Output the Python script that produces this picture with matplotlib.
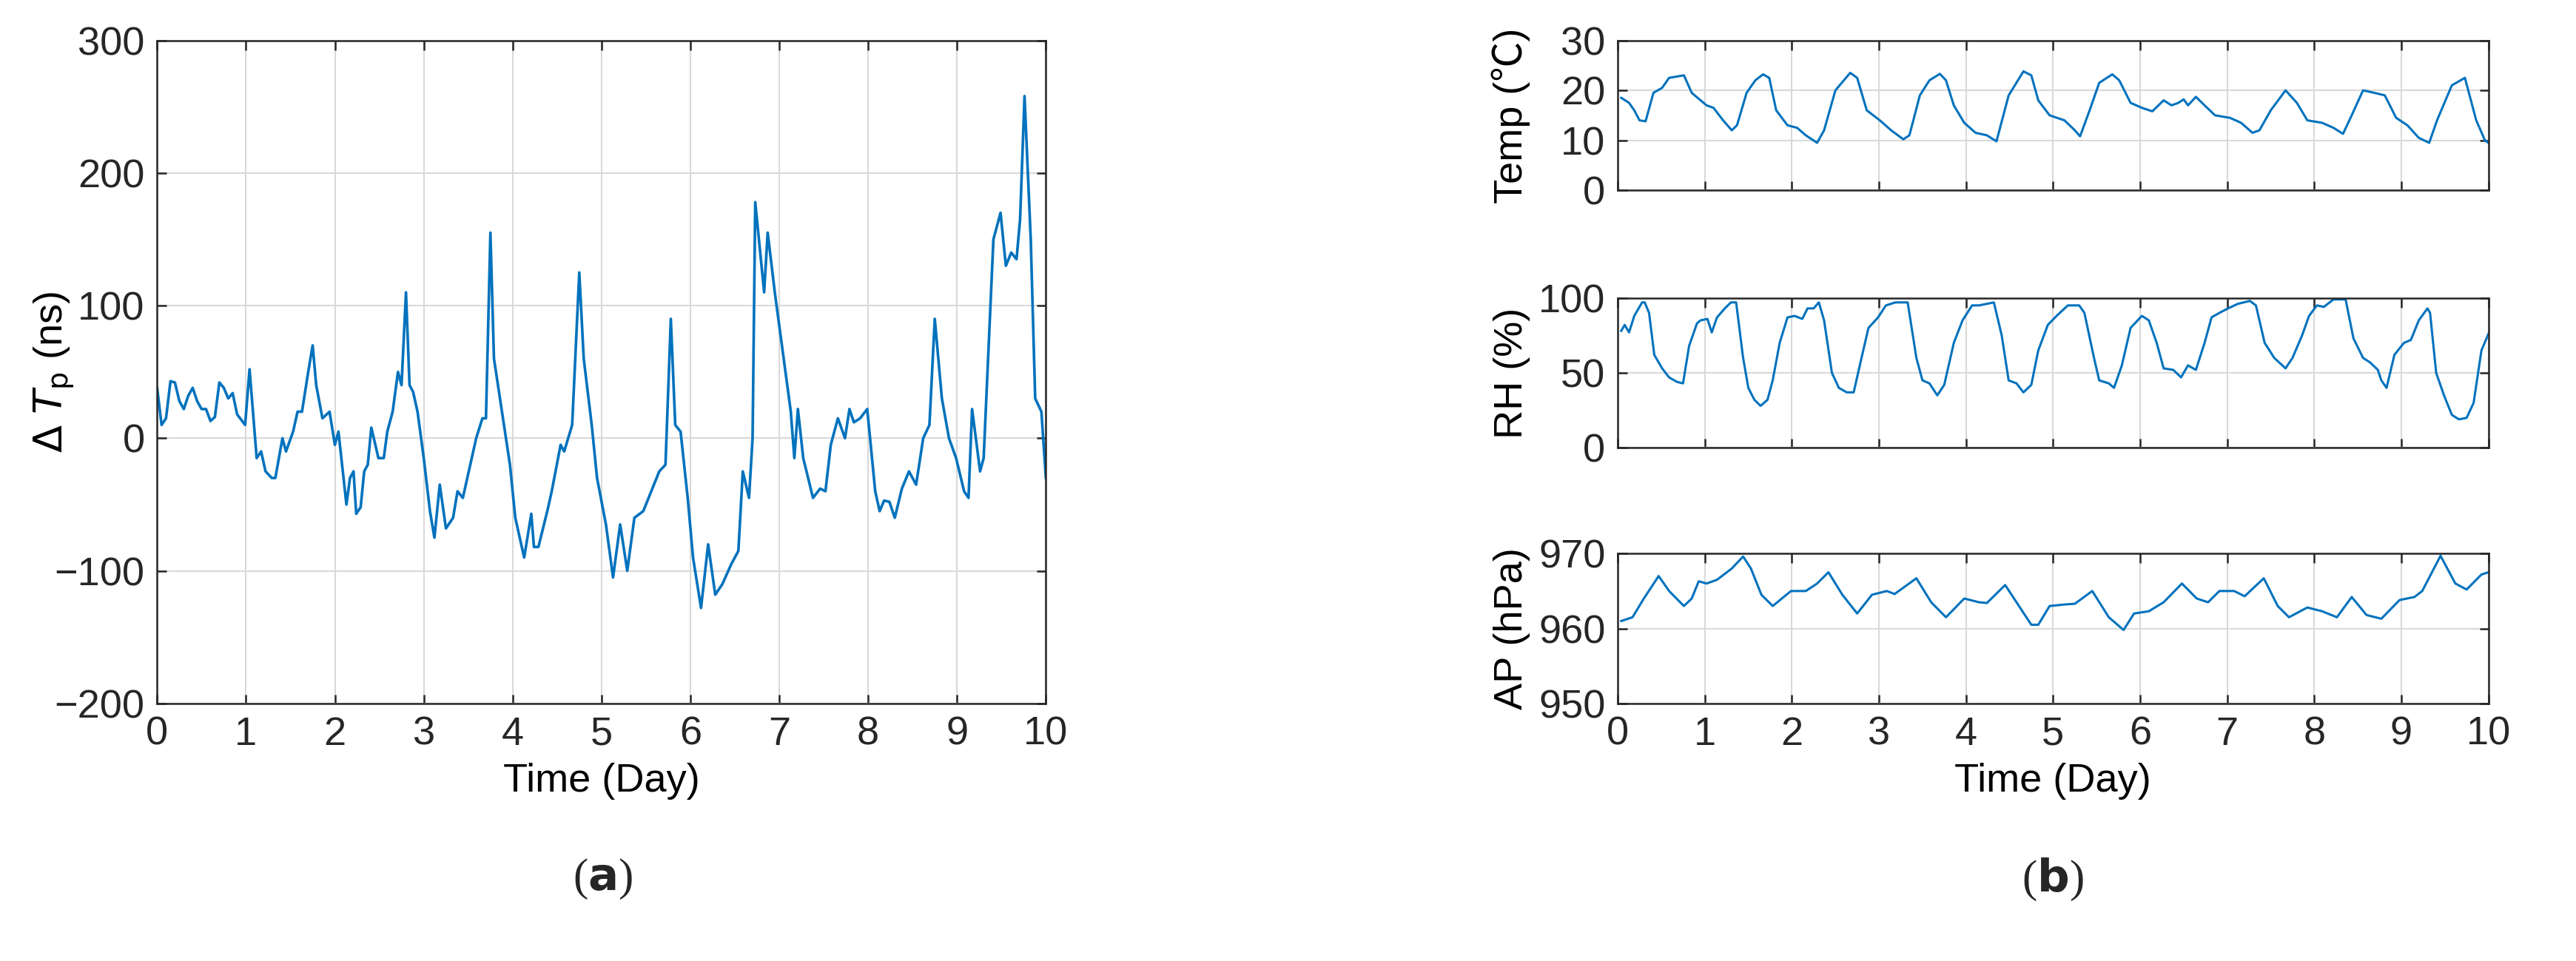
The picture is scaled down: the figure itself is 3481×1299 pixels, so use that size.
import numpy as np
import matplotlib
matplotlib.use("Agg")
import matplotlib.pyplot as plt

BLUE, AXC, GRID = "#0072BD", "#262626", "#d9d9d9"
plt.rcParams.update({"font.family": ["Liberation Sans", "DejaVu Sans"], "font.size": 39,
                     "axes.linewidth": 1.8, "axes.edgecolor": AXC,
                     "xtick.color": AXC, "ytick.color": AXC, "text.color": AXC})

# ---- (a) delta Tp ----
t_dtp = [0, .05, .1, .15, .2, .25, .3, .35, .4, .45, .5, .55, .6, .65, .7, .75, .8, .85, .9, .99,
         1.04, 1.12, 1.17, 1.22, 1.29, 1.33, 1.41, 1.45, 1.53, 1.58, 1.63, 1.70, 1.75, 1.79, 1.86, 1.94,
         2.0, 2.04, 2.13, 2.17, 2.21, 2.24, 2.29, 2.33, 2.37, 2.41, 2.49, 2.55, 2.59, 2.65, 2.71, 2.75,
         2.80, 2.84, 2.88, 2.93, 3.0, 3.07, 3.12, 3.18, 3.25, 3.33, 3.38, 3.44, 3.49, 3.59, 3.66, 3.70,
         3.75, 3.79, 3.88, 3.97, 4.03, 4.13, 4.21, 4.24, 4.29, 4.39, 4.44, 4.54, 4.58, 4.67, 4.75, 4.80,
         4.89, 4.95, 5.05, 5.13, 5.21, 5.29, 5.37, 5.47, 5.56, 5.65, 5.72, 5.78, 5.83, 5.89, 5.97, 6.03,
         6.12, 6.20, 6.28, 6.36, 6.46, 6.54, 6.59, 6.66, 6.70, 6.73, 6.83, 6.87, 6.95, 7.03, 7.13, 7.17,
         7.21, 7.27, 7.38, 7.46, 7.52, 7.58, 7.66, 7.74, 7.79, 7.84, 7.91, 7.99, 8.08, 8.13, 8.18, 8.24,
         8.30, 8.38, 8.46, 8.54, 8.62, 8.69, 8.75, 8.83, 8.91, 8.99, 9.08, 9.13, 9.17, 9.26, 9.30, 9.41,
         9.49, 9.55, 9.61, 9.67, 9.71, 9.76, 9.83, 9.88, 9.95, 10.0]
dtp = [38, 10, 15, 43, 42, 28, 22, 32, 38, 28, 22, 22, 13, 16, 42, 38, 30, 34, 18, 10,
       52, -15, -10, -25, -30, -30, 0, -10, 5, 20, 20, 50, 70, 40, 15, 20,
       -5, 5, -50, -30, -25, -57, -52, -25, -20, 8, -15, -15, 5, 20, 50, 40,
       110, 40, 35, 20, -15, -55, -75, -35, -68, -60, -40, -45, -30, 0, 15, 15,
       155, 60, 20, -20, -60, -90, -57, -82, -82, -55, -40, -5, -10, 10, 125, 60,
       10, -30, -65, -105, -65, -100, -60, -55, -40, -25, -20, 90, 10, 5, -45, -90,
       -128, -80, -118, -110, -95, -85, -25, -45, 0, 178, 110, 155, 110, 70, 20, -15,
       22, -15, -45, -38, -40, -5, 15, 0, 22, 12, 15, 22, -40, -55, -47, -48,
       -60, -38, -25, -35, 0, 10, 90, 30, 0, -15, -40, -45, 22, -25, -15, 150,
       170, 130, 140, 135, 165, 258, 150, 30, 20, -30]

# ---- (b) environment ----
t_temp = [.04, .13, .19, .25, .32, .41, .51, .59, .76, .85, 1.02, 1.10, 1.21, 1.31, 1.37, 1.48, 1.58,
          1.67, 1.74, 1.82, 1.95, 2.06, 2.16, 2.29, 2.37, 2.50, 2.67, 2.75, 2.86, 3.01, 3.14, 3.28, 3.35,
          3.47, 3.58, 3.70, 3.77, 3.86, 3.98, 4.11, 4.24, 4.35, 4.49, 4.66, 4.75, 4.83, 4.96, 5.13, 5.25,
          5.31, 5.42, 5.53, 5.68, 5.76, 5.89, 6.02, 6.14, 6.27, 6.36, 6.44, 6.50, 6.55, 6.64, 6.74, 6.86,
          7.03, 7.16, 7.29, 7.37, 7.50, 7.67, 7.80, 7.92, 8.09, 8.22, 8.33, 8.43, 8.56, 8.69, 8.81, 8.94,
          9.07, 9.20, 9.32, 9.41, 9.58, 9.73, 9.86, 9.96, 10.0]
temp = [18.5, 17.5, 16, 14, 13.8, 19.5, 20.5, 22.5, 23, 19.5, 17, 16.5, 14, 12, 13, 19.5, 22,
        23.2, 22.5, 16, 13, 12.5, 11, 9.5, 12, 20, 23.5, 22.5, 16, 14, 12, 10.2, 11,
        19, 22, 23.3, 22, 17, 13.5, 11.5, 11, 9.8, 19, 23.8, 23, 18, 15, 14, 12,
        10.8, 16, 21.5, 23.2, 22, 17.5, 16.5, 15.8, 18, 17, 17.5, 18.2, 17, 18.7, 17, 15,
        14.5, 13.5, 11.5, 12, 16, 20, 17.5, 14, 13.5, 12.5, 11.3, 15, 20, 19.5, 19, 14.5,
        13, 10.5, 9.5, 14, 21, 22.5, 14, 10, 9.5]

t_rh = [.04, .08, .13, .19, .28, .31, .36, .42, .51, .59, .68, .75, .82, .91, .95, 1.03, 1.08, 1.14,
        1.23, 1.30, 1.36, 1.44, 1.5, 1.57, 1.64, 1.72, 1.78, 1.86, 1.95, 2.03, 2.12, 2.18, 2.25, 2.31,
        2.37, 2.46, 2.54, 2.63, 2.71, 2.80, 2.88, 2.99, 3.08, 3.19, 3.33, 3.43, 3.50, 3.58, 3.67, 3.75,
        3.86, 3.96, 4.07, 4.15, 4.32, 4.41, 4.49, 4.58, 4.66, 4.75, 4.83, 4.94, 5.04, 5.17, 5.30, 5.36,
        5.47, 5.53, 5.64, 5.70, 5.79, 5.89, 6.02, 6.10, 6.19, 6.27, 6.38, 6.47, 6.55, 6.64, 6.74, 6.82,
        6.91, 7.01, 7.12, 7.26, 7.33, 7.43, 7.54, 7.67, 7.75, 7.86, 7.94, 8.03, 8.11, 8.22, 8.36, 8.45,
        8.56, 8.64, 8.73, 8.77, 8.83, 8.92, 9.03, 9.11, 9.20, 9.30, 9.33, 9.40, 9.49, 9.58, 9.66, 9.75,
        9.83, 9.92, 10.0]
rh = [78, 82, 77, 88, 97, 97, 90, 62, 53, 47, 44, 43, 68, 83, 85, 86, 77, 87,
      93, 97, 97, 60, 40, 32, 28, 32, 45, 70, 87, 88, 86, 93, 93, 97,
      85, 50, 40, 37, 37, 60, 80, 87, 95, 97, 97, 60, 45, 43, 35, 42,
      70, 85, 95, 95, 97, 75, 45, 43, 37, 42, 65, 82, 88, 95, 95, 90,
      60, 45, 43, 40, 55, 80, 88, 85, 70, 53, 52, 47, 55, 52, 70, 87,
      90, 93, 96, 98, 95, 70, 60, 53, 60, 75, 88, 95, 94, 99, 99, 73,
      60, 57, 52, 45, 40, 62, 70, 72, 85, 93, 90, 50, 35, 22, 19, 20,
      30, 65, 76]

t_ap = [.04, .17, .30, .47, .59, .76, .85, .93, 1.02, 1.14, 1.31, 1.44, 1.53, 1.65, 1.78, 1.99, 2.16,
        2.29, 2.42, 2.58, 2.75, 2.92, 3.09, 3.18, 3.43, 3.60, 3.77, 3.98, 4.15, 4.24, 4.45, 4.58, 4.75,
        4.83, 4.96, 5.13, 5.25, 5.45, 5.64, 5.81, 5.93, 6.10, 6.27, 6.48, 6.65, 6.78, 6.91, 7.08, 7.20,
        7.42, 7.58, 7.71, 7.92, 8.09, 8.26, 8.43, 8.60, 8.77, 8.98, 9.15, 9.24, 9.45, 9.62, 9.75, 9.92, 10.0]
ap = [961, 961.5, 964, 967, 965, 963, 964, 966.3, 966, 966.5, 968, 969.6, 968, 964.5, 963, 965, 965,
      966, 967.5, 964.5, 962, 964.5, 965, 964.6, 966.7, 963.5, 961.5, 964, 963.5, 963.4, 965.8, 963.5, 960.5,
      960.5, 963, 963.2, 963.3, 965, 961.5, 959.8, 962, 962.3, 963.5, 966, 964, 963.5, 965, 965, 964.3,
      966.7, 963, 961.5, 962.8, 962.3, 961.5, 964.2, 961.8, 961.3, 963.8, 964.2, 965, 969.7, 966, 965.2, 967.2, 967.5]


def style(ax, showx=True):
    ax.set_xlim(0, 10)
    ax.set_xticks(range(11))
    ax.grid(True, color=GRID, linewidth=1.5)
    ax.set_axisbelow(True)
    ax.tick_params(direction="in", length=9, width=1.8, top=True, right=True, pad=12,
                   labelbottom=showx)


fig = plt.figure(figsize=(34.81, 12.99), dpi=100)

ax = fig.add_axes([0.061, 0.268, 0.345, 0.69])
ax.plot(t_dtp, dtp, color=BLUE, lw=2.6)
ax.set_ylim(-200, 300)
ax.set_yticks(range(-200, 301, 100))
style(ax)
ax.set_xlabel("Time (Day)", labelpad=10)
ax.set_ylabel(r"$\Delta$ $\it{T}$$_{\rm p}$ (ns)")
ax.yaxis.set_label_coords(-0.09, 0.5)

specs = [(0.802, t_temp, temp, (0, 30), [0, 10, 20, 30], "Temp (\u2103)"),
         (0.534, t_rh, rh, (0, 100), [0, 50, 100], "RH (%)"),
         (0.268, t_ap, ap, (950, 970), [950, 960, 970], "AP (hPa)")]
for i, (b, tt, yy, lim, ticks, lab) in enumerate(specs):
    a = fig.add_axes([0.628, b, 0.338, 0.156])
    a.plot(tt, yy, color=BLUE, lw=2.2)
    a.set_ylim(*lim)
    a.set_yticks(ticks)
    style(a, showx=(i == 2))
    a.set_ylabel(lab, family=["Liberation Sans", "Noto Sans CJK SC"])
    a.yaxis.set_label_coords(-0.10, 0.5)
    if i == 2:
        a.set_xlabel("Time (Day)", labelpad=10)

for x, s in [(0.234, "a"), (0.797, "b")]:
    fig.text(x, 0.085, r"($\mathbf{" + s + r"}$)", family="Liberation Serif", fontsize=44,
             ha="center", va="center")

fig.savefig("out.png", dpi=100)
